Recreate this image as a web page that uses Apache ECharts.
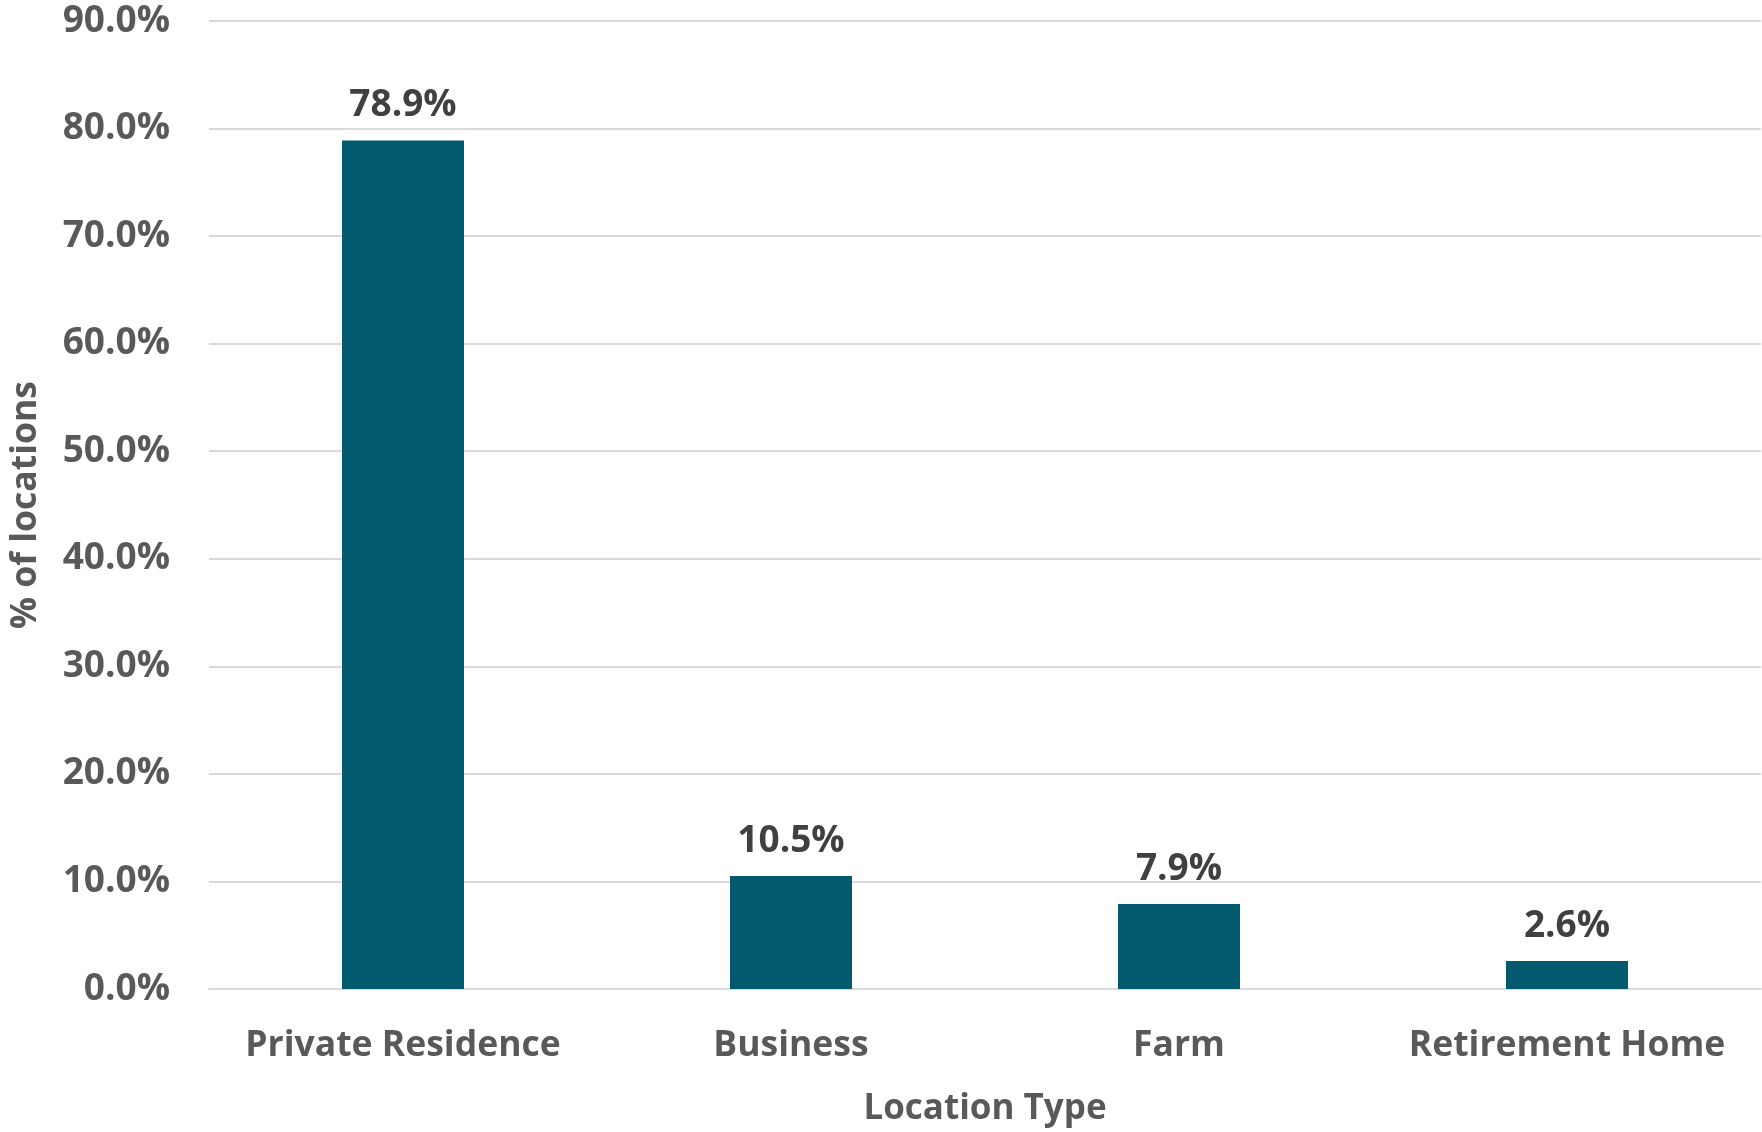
<!DOCTYPE html>
<html>
<head>
<meta charset="utf-8">
<script src="https://cdn.jsdelivr.net/npm/echarts@6/dist/echarts.min.js"></script>
<style>
html,body{margin:0;padding:0;background:#fff;}
#chart{width:1762px;height:1132px;}
</style>
</head>
<body>
<div id="chart"></div>
<script>
const categories = ['Private Residence', 'Business', 'Farm', 'Retirement Home'];
const values = [78.9, 10.5, 7.9, 2.6];
const yTicks = { min: 0, max: 90, interval: 10 };
const yAxisTitle = '% of locations';
const xAxisTitle = 'Location Type';

const FONT = '"Open Sans", sans-serif';
const chart = echarts.init(document.getElementById('chart'));
chart.setOption({
  animation: false,
  backgroundColor: '#ffffff',
  grid: { left: 200, right: 1, top: 21, bottom: 136 },
  xAxis: {
    type: 'category',
    data: categories,
    axisLine: { show: true, lineStyle: { color: '#d9d9d9', width: 2 } },
    axisTick: { show: false },
    axisLabel: { interval: 0, color: '#595959', fontFamily: FONT, fontWeight: 'bold', fontSize: 35.5, margin: 39 },
    name: xAxisTitle,
    nameLocation: 'middle',
    nameGap: 103,
    nameTextStyle: { color: '#595959', fontFamily: FONT, fontWeight: 'bold', fontSize: 35 }
  },
  yAxis: {
    type: 'value',
    min: yTicks.min,
    max: yTicks.max,
    interval: yTicks.interval,
    axisLine: { show: false },
    axisTick: { show: false },
    splitLine: { show: true, lineStyle: { color: '#d9d9d9', width: 2 } },
    axisLabel: {
      color: '#595959', fontFamily: FONT, fontWeight: 'bold', fontSize: 37, margin: 39,
      formatter: v => v.toFixed(1) + '%'
    },
    name: yAxisTitle,
    nameLocation: 'middle',
    nameRotate: 90,
    nameGap: 165,
    nameTextStyle: { color: '#595959', fontFamily: FONT, fontWeight: 'bold', fontSize: 35.5 }
  },
  series: [{
    type: 'bar',
    data: values,
    barWidth: 122,
    itemStyle: { color: '#03596E' },
    label: {
      show: true, position: 'top', distance: 16,
      color: '#404040', fontFamily: FONT, fontWeight: 'bold', fontSize: 37,
      formatter: p => p.value.toFixed(1) + '%'
    }
  }]
});
</script>
</body>
</html>
